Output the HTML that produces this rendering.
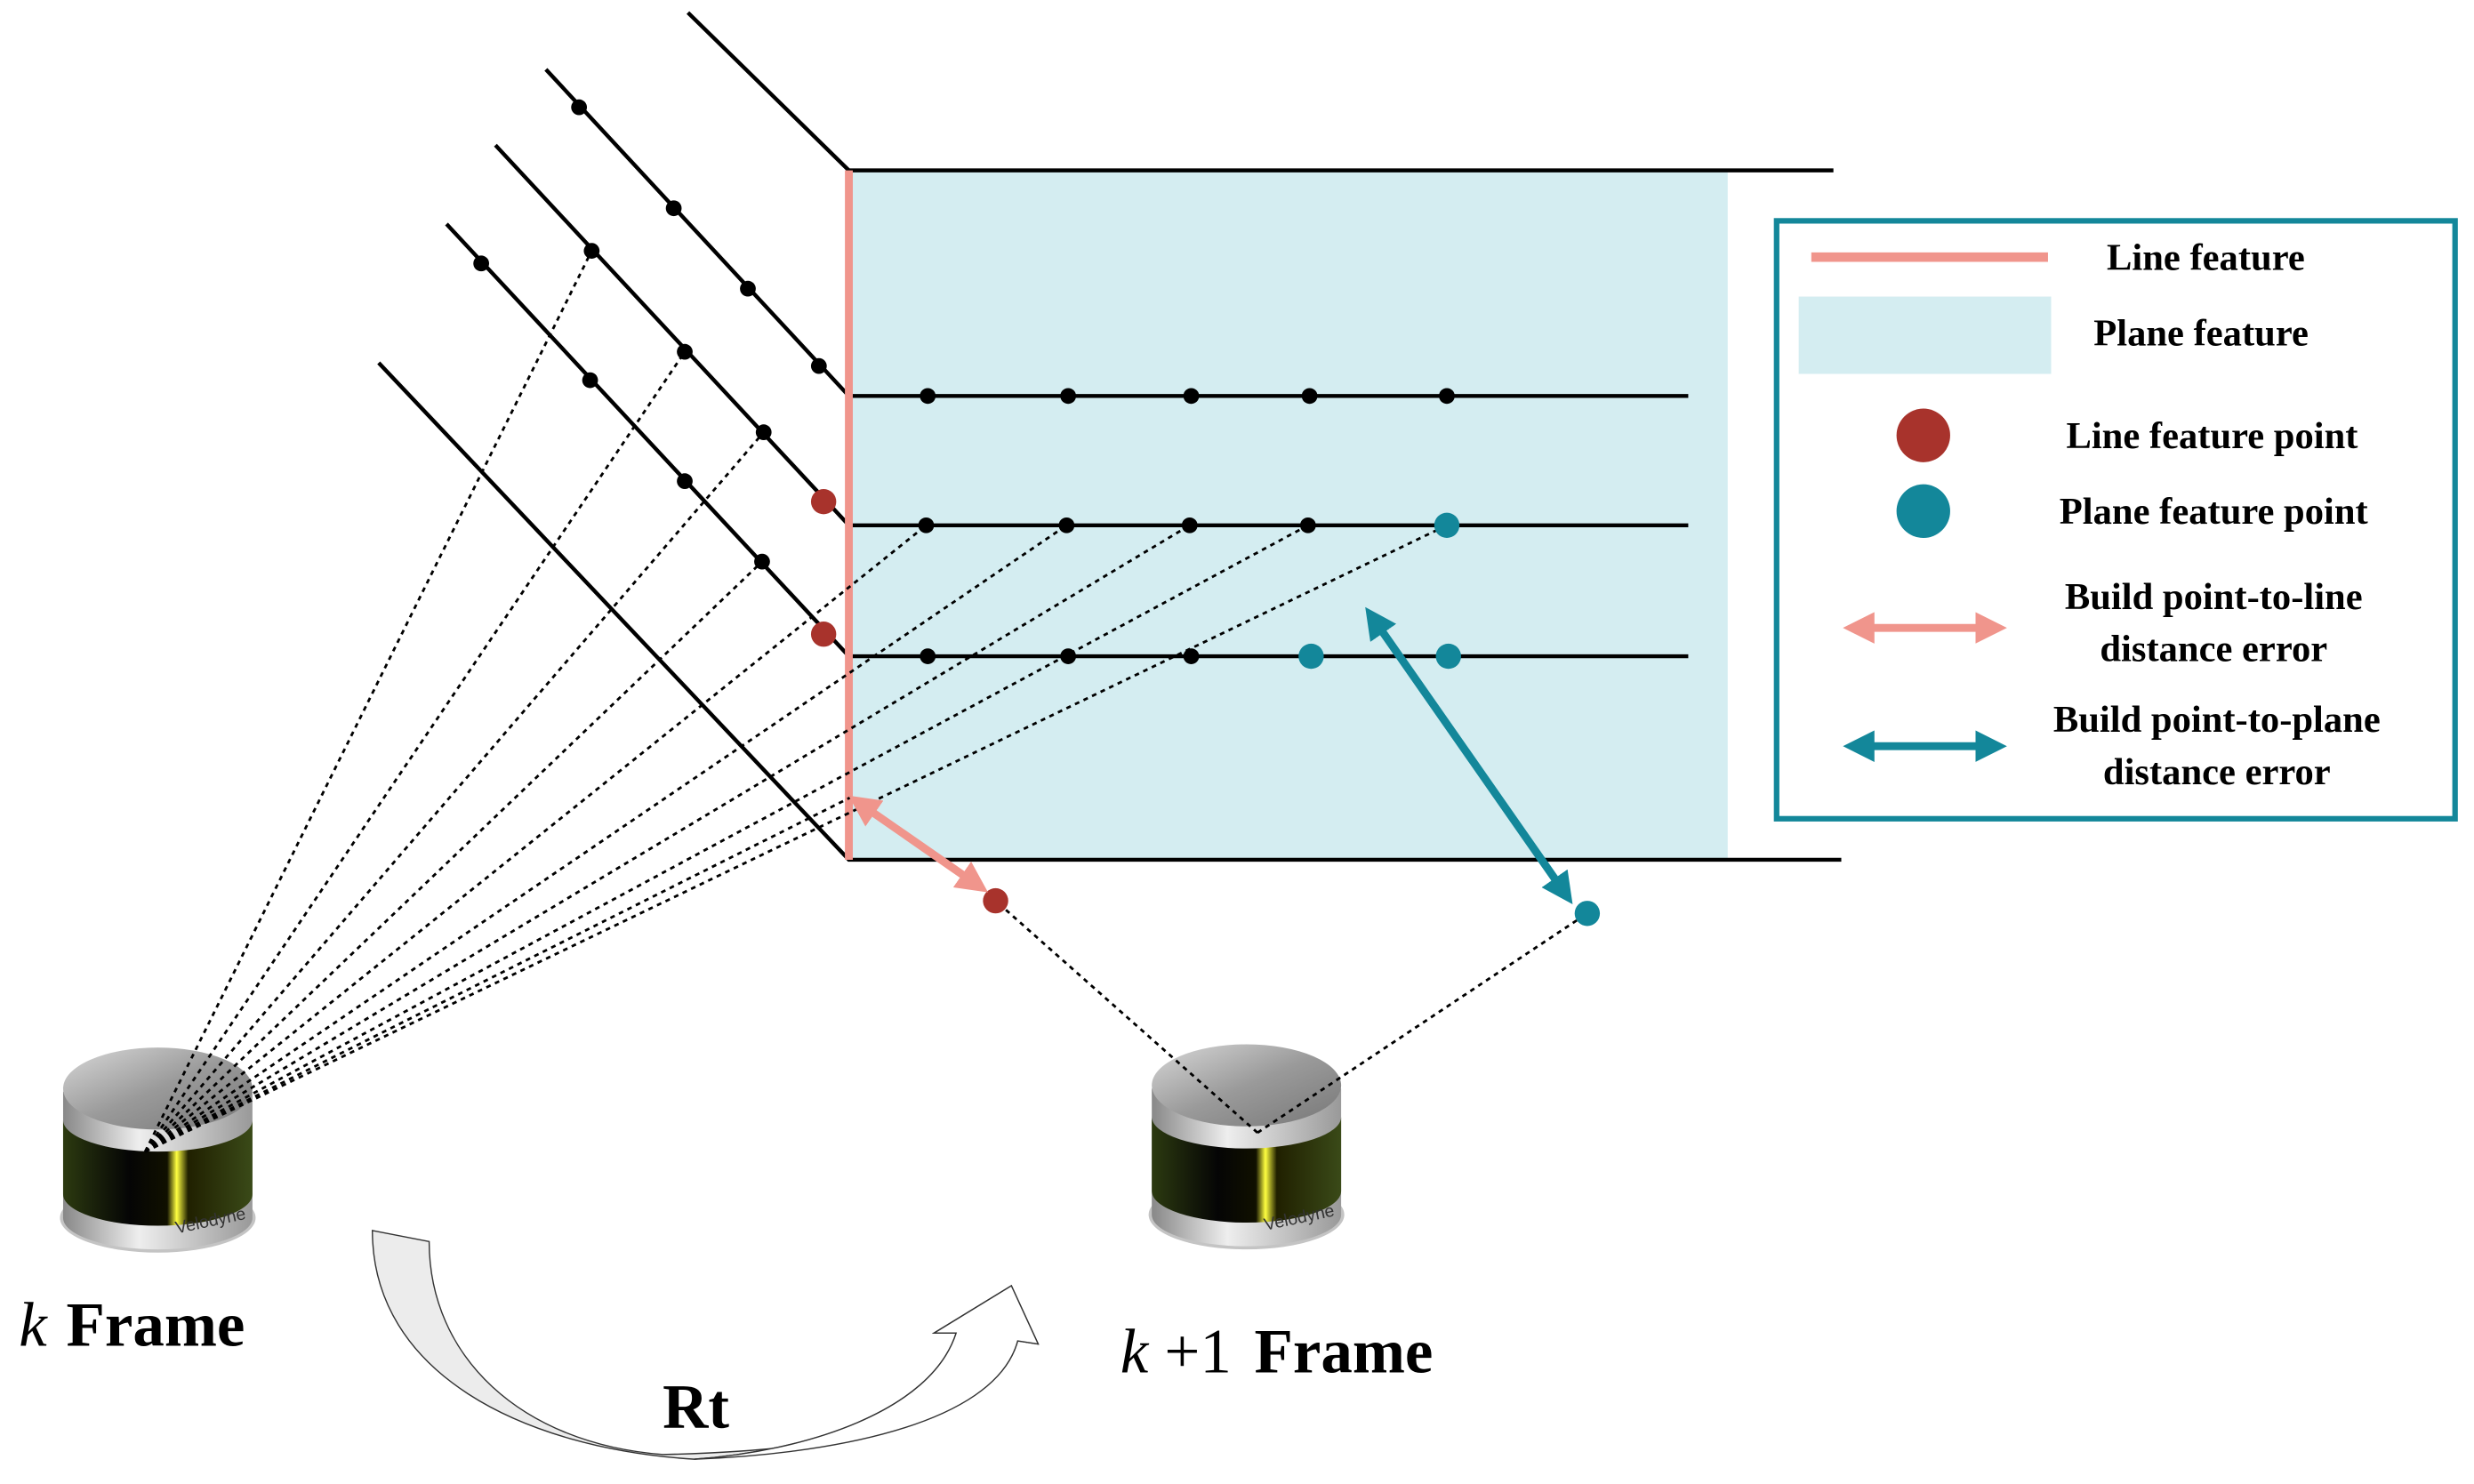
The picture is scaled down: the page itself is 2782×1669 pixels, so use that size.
<!DOCTYPE html>
<html><head><meta charset="utf-8"><style>
html,body{margin:0;padding:0;background:#fff;}
svg{display:block;}
</style></head><body>
<svg width="2782" height="1669" viewBox="0 0 1568 940.7" preserveAspectRatio="none" xmlns="http://www.w3.org/2000/svg" font-family="'Liberation Serif','Times New Roman',serif">
<defs>
<linearGradient id="top" x1="0" y1="0" x2="1" y2="1"><stop offset="0" stop-color="#d8d8d8"/><stop offset="0.5" stop-color="#9a9a9a"/><stop offset="1" stop-color="#777"/></linearGradient>
<linearGradient id="band" x1="0" y1="0" x2="1" y2="0"><stop offset="0" stop-color="#888"/><stop offset="0.4" stop-color="#eee"/><stop offset="1" stop-color="#999"/></linearGradient>
<linearGradient id="win" x1="0" y1="0" x2="1" y2="0"><stop offset="0" stop-color="#2c3a10"/><stop offset="0.35" stop-color="#050505"/><stop offset="0.55" stop-color="#101000"/><stop offset="0.6" stop-color="#ffff40"/><stop offset="0.66" stop-color="#202000"/><stop offset="1" stop-color="#3a4a18"/></linearGradient>
<marker id="pa" viewBox="0 0 10 10" refX="5" refY="5" markerWidth="4" markerHeight="4" orient="auto-start-reverse"><path d="M0,0 L10,5 L0,10 z" fill="#f0958c"/></marker>
<marker id="ta" viewBox="0 0 10 10" refX="5" refY="5" markerWidth="4" markerHeight="4" orient="auto-start-reverse"><path d="M0,0 L10,5 L0,10 z" fill="#13879a"/></marker>
<g id="lidar">
<ellipse cx="60" cy="110" rx="62" ry="22" fill="#555" opacity="0.35"/>
<path d="M0,30 L0,110 A60,20 0 0 0 120,110 L120,30 Z" fill="url(#band)"/>
<path d="M0,48 L0,95 A60,20 0 0 0 120,95 L120,48 A60,20 0 0 1 0,48 Z" fill="url(#win)"/>
<ellipse cx="60" cy="28" rx="60" ry="26" fill="url(#top)"/>
<text x="72" y="120" font-family="Liberation Sans,sans-serif" font-size="11" fill="#333" transform="rotate(-12 72 120)">Velodyne</text>
</g>
</defs>
<rect x="538" y="108" width="557" height="437" fill="#d4edf1"/>
<g stroke="#000" stroke-width="2.5" fill="none">
<polyline points="436,8 538,108 1162,108"/>
<polyline points="346,44 538,251 1070,251"/>
<polyline points="314,92 538,333 1070,333"/>
<polyline points="283,142 538,416 1070,416"/>
<polyline points="240,230 538,545 1167,545"/>
</g>
<line x1="538" y1="108" x2="538" y2="545" stroke="#f0958c" stroke-width="5"/>
<use href="#lidar" transform="translate(40,662)"/>
<use href="#lidar" transform="translate(730,660)"/>
<g stroke="#000" stroke-width="1.6" stroke-dasharray="3,3" fill="none">
<line x1="92" y1="730" x2="375" y2="159"/>
<line x1="92" y1="730" x2="434" y2="223"/>
<line x1="92" y1="730" x2="484" y2="274"/>
<line x1="92" y1="730" x2="483" y2="356"/>
<line x1="92" y1="730" x2="587" y2="333"/>
<line x1="92" y1="730" x2="676" y2="333"/>
<line x1="92" y1="730" x2="754" y2="333"/>
<line x1="92" y1="730" x2="829" y2="333"/>
<line x1="92" y1="730" x2="917" y2="333"/>
<line x1="92" y1="730" x2="540" y2="505"/>
<line x1="797" y1="718" x2="631" y2="571"/>
<line x1="797" y1="718" x2="1006" y2="579"/>
</g>
<g fill="#000">
<circle cx="367" cy="68" r="5"/><circle cx="427" cy="132" r="5"/><circle cx="474" cy="183" r="5"/><circle cx="519" cy="232" r="5"/>
<circle cx="375" cy="159" r="5"/><circle cx="434" cy="223" r="5"/><circle cx="484" cy="274" r="5"/>
<circle cx="305" cy="167" r="5"/><circle cx="374" cy="241" r="5"/><circle cx="434" cy="305" r="5"/><circle cx="483" cy="356" r="5"/>
<circle cx="588" cy="251" r="5"/><circle cx="677" cy="251" r="5"/><circle cx="755" cy="251" r="5"/><circle cx="830" cy="251" r="5"/><circle cx="917" cy="251" r="5"/>
<circle cx="587" cy="333" r="5"/><circle cx="676" cy="333" r="5"/><circle cx="754" cy="333" r="5"/><circle cx="829" cy="333" r="5"/>
<circle cx="588" cy="416" r="5"/><circle cx="677" cy="416" r="5"/><circle cx="755" cy="416" r="5"/>
</g>
<g fill="#a8332c"><circle cx="522" cy="318" r="8"/><circle cx="522" cy="402" r="8"/><circle cx="631" cy="571" r="8"/></g>
<g fill="#13879a"><circle cx="917" cy="333" r="8"/><circle cx="831" cy="416" r="8"/><circle cx="918" cy="416" r="8"/><circle cx="1006" cy="579" r="8"/></g>
<line x1="546" y1="510" x2="618" y2="560" stroke="#f0958c" stroke-width="5" marker-start="url(#pa)" marker-end="url(#pa)"/>
<line x1="871" y1="393" x2="991" y2="565" stroke="#13879a" stroke-width="5" marker-start="url(#ta)" marker-end="url(#ta)"/>
<path d="M236,780 L272,787 C272,860 330,915 420,922 C520,920 630,905 645,850 L658,852 L641,815 L592,845 L606,845 C590,895 510,920 440,925 C330,918 236,870 236,780 Z" fill="#ececec" stroke="#333" stroke-width="0.8"/>
<path d="M645,850 L658,852 L641,815 L592,845 L606,845 C590,895 510,920 440,925 C520,922 630,905 645,850Z" fill="#fff" stroke="#333" stroke-width="0.8"/>
<text x="12" y="853" font-size="40" font-style="italic">k</text><text x="42" y="853" font-size="40" font-weight="bold">Frame</text>
<text x="710" y="870" font-size="40" font-style="italic">k</text><text x="738" y="870" font-size="40">+1</text><text x="795" y="870" font-size="40" font-weight="bold">Frame</text>
<text x="420" y="905" font-size="40" font-weight="bold">Rt</text>
<rect x="1126" y="140" width="430" height="379" fill="#fff" stroke="#13879a" stroke-width="3.5"/>
<line x1="1148" y1="163" x2="1298" y2="163" stroke="#f0958c" stroke-width="6"/>
<rect x="1140" y="188" width="160" height="49" fill="#d4edf1"/>
<circle cx="1219" cy="276" r="17" fill="#a8332c"/>
<circle cx="1219" cy="324" r="17" fill="#13879a"/>
<line x1="1178" y1="398" x2="1262" y2="398" stroke="#f0958c" stroke-width="5" marker-start="url(#pa)" marker-end="url(#pa)"/>
<line x1="1178" y1="473" x2="1262" y2="473" stroke="#13879a" stroke-width="5" marker-start="url(#ta)" marker-end="url(#ta)"/>
<g font-size="24" font-weight="bold" text-anchor="middle">
<text x="1398" y="171">Line feature</text>
<text x="1395" y="219">Plane feature</text>
<text x="1402" y="284">Line feature point</text>
<text x="1403" y="332">Plane feature point</text>
<text x="1403" y="386">Build point-to-line</text>
<text x="1403" y="419">distance error</text>
<text x="1405" y="464">Build point-to-plane</text>
<text x="1405" y="497">distance error</text>
</g>
</svg>
</body></html>
